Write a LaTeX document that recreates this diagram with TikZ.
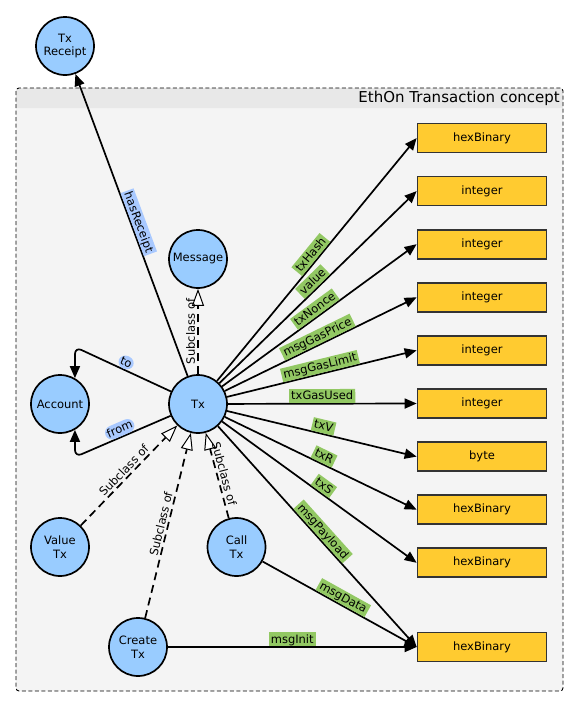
\documentclass[tikz,border=0pt]{standalone}
\usepackage{fontspec}
\setmainfont{DejaVu Sans}
\usetikzlibrary{arrows.meta}

\definecolor{conceptblue}{HTML}{99CCFF}
\definecolor{typeyellow}{HTML}{FFCB30}
\definecolor{labelgreen}{HTML}{92C863}
\definecolor{labelblue}{HTML}{A9C9FF}
\definecolor{bodygray}{HTML}{F4F4F4}
\definecolor{headgray}{HTML}{E8E8E8}

\newcommand{\nodefont}{\fontsize{11.5}{13.5}\selectfont}
\newcommand{\lblfont}{\fontsize{11.5}{13}\selectfont}
\newcommand{\titlefont}{\fontsize{15}{17}\selectfont}

\tikzset{
  concept/.style={circle, draw=black, line width=1.7pt, fill=conceptblue,
    minimum size=58pt, inner sep=0pt, align=center, font=\nodefont},
  datatype/.style={rectangle, draw=black!80, line width=1.7pt, fill=typeyellow,
    minimum width=129pt, minimum height=29pt, inner sep=0pt, font=\nodefont},
  prop/.style={-{Triangle[length=12pt,width=10pt]}, line width=1.7pt},
  subcls/.style={-{Triangle[length=17pt,width=12pt,fill=white,line width=1pt]},
    line width=1.7pt, dash pattern=on 8pt off 5pt},
  dlabel/.style={fill=labelgreen, sloped, above, pos=0.5, inner sep=2pt,
    font=\lblfont, text depth=0.2ex},
  olabel/.style={fill=labelblue, sloped, above, pos=0.5, inner sep=2pt,
    font=\lblfont, text depth=0.2ex},
  sublabel/.style={sloped, above, pos=0.5, inner sep=2pt, font=\lblfont}
}

\begin{document}
\begin{tikzpicture}[x=1pt, y=-1pt]
\useasboundingbox (0,0) rectangle (578,707);

% group container with header band
\fill[bodygray, rounded corners=3pt] (16,88) rectangle (563,691);
\fill[headgray, rounded corners=3pt] (16,88) rectangle (563,108);
\fill[headgray] (16,98) rectangle (563,108);
\draw[dash pattern=on 4pt off 2.5pt, line width=0.9pt, rounded corners=3pt]
  (16,88) rectangle (563,691);
\node[anchor=east, font=\titlefont, inner sep=1pt] (title) at (561,98.5)
  {EthOn Transaction concept};

% concepts
\node[concept] (receipt) at (65,46)  {Tx\\Receipt};
\node[concept] (msg)     at (198,259) {Message};
\node[concept] (tx)      at (198,404) {Tx};
\node[concept] (acct)    at (60,404)  {Account};
\node[concept] (valtx)   at (60,547)  {Value\\Tx};
\node[concept] (calltx)  at (236.5,547) {Call\\Tx};
\node[concept] (createtx) at (138,647) {Create\\Tx};

% datatypes
\node[datatype] (d1)  at (482,138)   {hexBinary};
\node[datatype] (d2)  at (482,191.1) {integer};
\node[datatype] (d3)  at (482,244.2) {integer};
\node[datatype] (d4)  at (482,297.3) {integer};
\node[datatype] (d5)  at (482,350.4) {integer};
\node[datatype] (d6)  at (482,403.5) {integer};
\node[datatype] (d7)  at (482,456.6) {byte};
\node[datatype] (d8)  at (482,509.7) {hexBinary};
\node[datatype] (d9)  at (482,562.8) {hexBinary};
\node[datatype] (d10) at (482,647)   {hexBinary};

% datatype properties
\draw[prop] (tx) -- node[dlabel] {txHash}      (d1.west);
\draw[prop] (tx) -- node[dlabel] {value}       (d2.west);
\draw[prop] (tx) -- node[dlabel] {txNonce}     (d3.west);
\draw[prop] (tx) -- node[dlabel] {msgGasPrice} (d4.west);
\draw[prop] (tx) -- node[dlabel] {msgGasLimit} (d5.west);
\draw[prop] (tx) -- node[dlabel] {txGasUsed}   (d6.west);
\draw[prop] (tx) -- node[dlabel] {txV}         (d7.west);
\draw[prop] (tx) -- node[dlabel] {txR}         (d8.west);
\draw[prop] (tx) -- node[dlabel] {txS}         (d9.west);
\draw[prop] (tx) -- node[dlabel] {msgPayload}  (d10.west);
\draw[prop] (calltx) -- node[dlabel] {msgData} (d10.west);
\draw[prop] (createtx) -- node[dlabel] {msgInit} (d10.west);

% object properties
\draw[prop] (tx) -- node[olabel] {hasReceipt} (receipt);
\coordinate (tobend) at (75,347);
\coordinate (frombend) at (75,457);
\draw[prop, rounded corners=7pt] (tx) -- node[olabel] {to} (tobend) -- (acct.60);
\draw[prop, rounded corners=7pt] (tx) -- node[olabel] {from} (frombend) -- (acct.-60);

% subclass relations
\draw[subcls] (tx) -- node[sublabel, allow upside down] {Subclass of} (msg);
\draw[subcls] (valtx) -- node[sublabel] {Subclass of} (tx);
\draw[subcls] (createtx) -- node[sublabel] {Subclass of} (tx);
\draw[subcls] (calltx) -- node[sublabel] {Subclass of} (tx);
\end{tikzpicture}
\end{document}
